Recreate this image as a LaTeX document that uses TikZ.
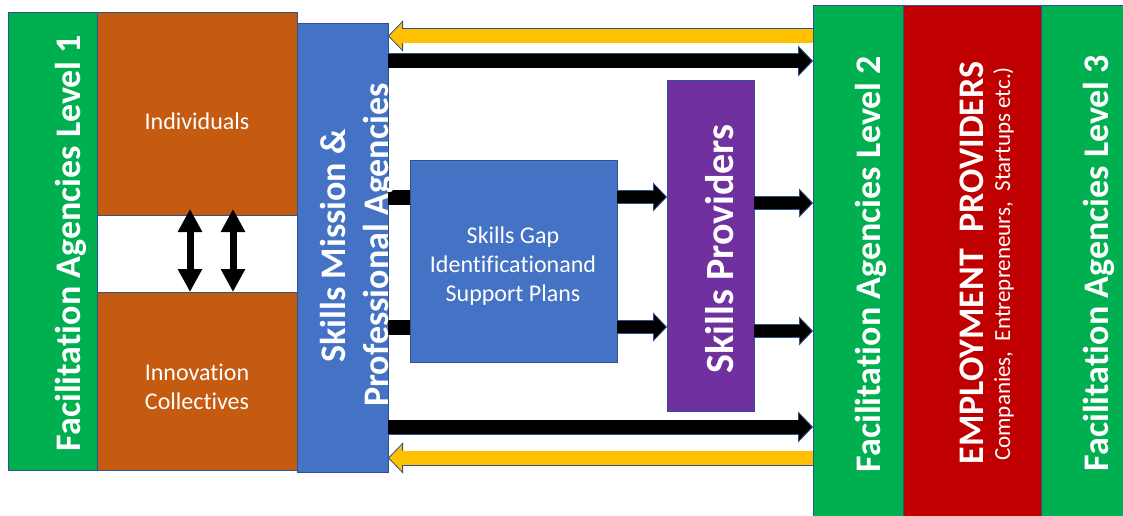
\documentclass[tikz,border=0pt]{standalone}
\usepackage{fontspec}
\setmainfont{Carlito}[Ligatures={NoCommon}]
\usetikzlibrary{arrows.meta,calc}

\definecolor{fagreen}{HTML}{00B050}
\definecolor{rust}{HTML}{C55A11}
\definecolor{steel}{HTML}{4472C4}
\definecolor{violet}{HTML}{7030A0}
\definecolor{crimson}{HTML}{C00000}
\definecolor{amber}{HTML}{FFC000}
\definecolor{edgeblue}{HTML}{2F528F}

\begin{document}
\begin{tikzpicture}[
		x=1pt, y=-1pt,
		box/.style={draw=edgeblue, line width=0.8pt, inner sep=0pt, outer sep=0pt, anchor=north west},
		vlabel/.style={rotate=90, anchor=base, text=white, inner sep=0pt},
		big/.style={font=\fontsize{36}{43}\selectfont\bfseries},
		plain/.style={text=white, align=center, font=\fontsize{24}{29}\selectfont},
		bigarrow/.style={draw=edgeblue, line width=15pt, -{Triangle[length=15pt,width=31pt,line width=0.8pt,fill=#1]}},
		bigcore/.style={draw=#1, line width=13.4pt, shorten >=14pt},
		midarrow/.style={draw=edgeblue, line width=14pt, -{Triangle[length=14pt,width=29pt,line width=0.8pt,fill=black]}},
		midcore/.style={draw=black, line width=12.4pt, shorten >=13pt},
		updown/.style={line width=7pt, {Triangle[length=23pt,width=23pt]}-{Triangle[length=23pt,width=23pt]}}
		]
		\useasboundingbox (0,0) rectangle (1123,516);
		
		% boxes
		\node[box, fill=fagreen, minimum width=89pt, minimum height=458pt] at (8,12) (lvlone) {};
		\node[box, fill=rust, minimum width=200pt, minimum height=203pt] at (97,12) (indiv) {};
		\node[box, fill=rust, minimum width=200pt, minimum height=178pt] at (97,292) (innov) {};
		\node[box, fill=steel, minimum width=91pt, minimum height=449pt] at (297,23) (mission) {};
		\node[box, fill=steel, minimum width=207pt, minimum height=202pt] at (410,160) (gap) {};
		\node[box, fill=violet, minimum width=87pt, minimum height=331pt] at (667,80) (providers) {};
		\node[box, fill=fagreen, minimum width=90pt, minimum height=512pt] at (813,5) (lvltwo) {};
		\node[box, fill=crimson, minimum width=138pt, minimum height=512pt] at (903,5) (employ) {};
		\node[box, fill=fagreen, minimum width=84pt, minimum height=512pt] at (1041,5) (lvlthree) {};
		
		% long arrows between the mission and level 2
		\coordinate (ytop) at ($(mission.north east)+(0,13)$);
		\coordinate (btop) at ($(mission.north east)+(0,38)$);
		\coordinate (bbot) at ($(mission.south east)+(0,-45)$);
		\coordinate (ybot) at ($(mission.south east)+(0,-14)$);
		\draw[bigarrow=amber] (lvltwo.west |- ytop) -- (ytop);
		\draw[bigcore=amber] (lvltwo.west |- ytop) -- (ytop);
		\draw[bigarrow=black] (btop) -- (lvltwo.west |- btop);
		\draw[bigcore=black] (btop) -- (lvltwo.west |- btop);
		\draw[bigarrow=black] (bbot) -- (lvltwo.west |- bbot);
		\draw[bigcore=black] (bbot) -- (lvltwo.west |- bbot);
		\draw[bigarrow=amber] (lvltwo.west |- ybot) -- (ybot);
		\draw[bigcore=amber] (lvltwo.west |- ybot) -- (ybot);
		
		% inner arrows
		\coordinate (ga) at ($(gap.north west)+(0,37)$);
		\coordinate (gb) at ($(gap.south west)+(0,-35)$);
		\draw[line width=15pt] (mission.east |- ga) -- (ga);
		\draw[line width=15pt] (mission.east |- gb) -- (gb);
		\draw[midarrow] (gap.east |- ga) -- (providers.west |- ga);
		\draw[midcore] (gap.east |- ga) -- (providers.west |- ga);
		\draw[midarrow] (gap.east |- gb) -- (providers.west |- gb);
		\draw[midcore] (gap.east |- gb) -- (providers.west |- gb);
		\coordinate (pa) at ($(providers.north east)+(0,123)$);
		\coordinate (pb) at ($(providers.south east)+(0,-80)$);
		\draw[midarrow] (pa) -- (lvltwo.west |- pa);
		\draw[midcore] (pa) -- (lvltwo.west |- pa);
		\draw[midarrow] (pb) -- (lvltwo.west |- pb);
		\draw[midcore] (pb) -- (lvltwo.west |- pb);
		
		% two way arrows
		\draw[updown] ($(indiv.south)+(-7,-6)$) -- ($(innov.north)+(-7,0)$);
		\draw[updown] ($(indiv.south)+(36,-6)$) -- ($(innov.north)+(36,0)$);
		
		% texts
		\node[vlabel, big] (lblone) at (80,243) {Facilitation Agencies Level 1};
		\node[vlabel, big] (lbltwo) at (880,264) {Facilitation Agencies Level 2};
		\node[vlabel, big] (lblthree) at (1108,263) {Facilitation Agencies Level 3};
		\node[vlabel, big] (lblemploy) at (983,263) {EMPLOYMENT\ \ PROVIDERS};
		\node[vlabel, font=\fontsize{23}{28}\selectfont] (lblkinds) at (1010,264) {Companies,\ \ Entrepreneurs,\ \ Startups etc.)};
		\node[vlabel, big] (lblmissa) at (345,246) {Skills Mission \&};
		\node[vlabel, big] (lblmissb) at (388,245) {Professional Agencies};
		\node[vlabel, font=\fontsize{40}{48}\selectfont\bfseries] (lblprov) at (733,249) {Skills Providers};
		\node[plain] (lblindiv) at (197,121) {Individuals};
		\node[plain] (lblinnov) at (197,387) {Innovation\\Collectives};
		\node[plain] (lblgap) at (513,266) {Skills Gap\\Identificationand\\Support Plans};
\end{tikzpicture}
\end{document}
